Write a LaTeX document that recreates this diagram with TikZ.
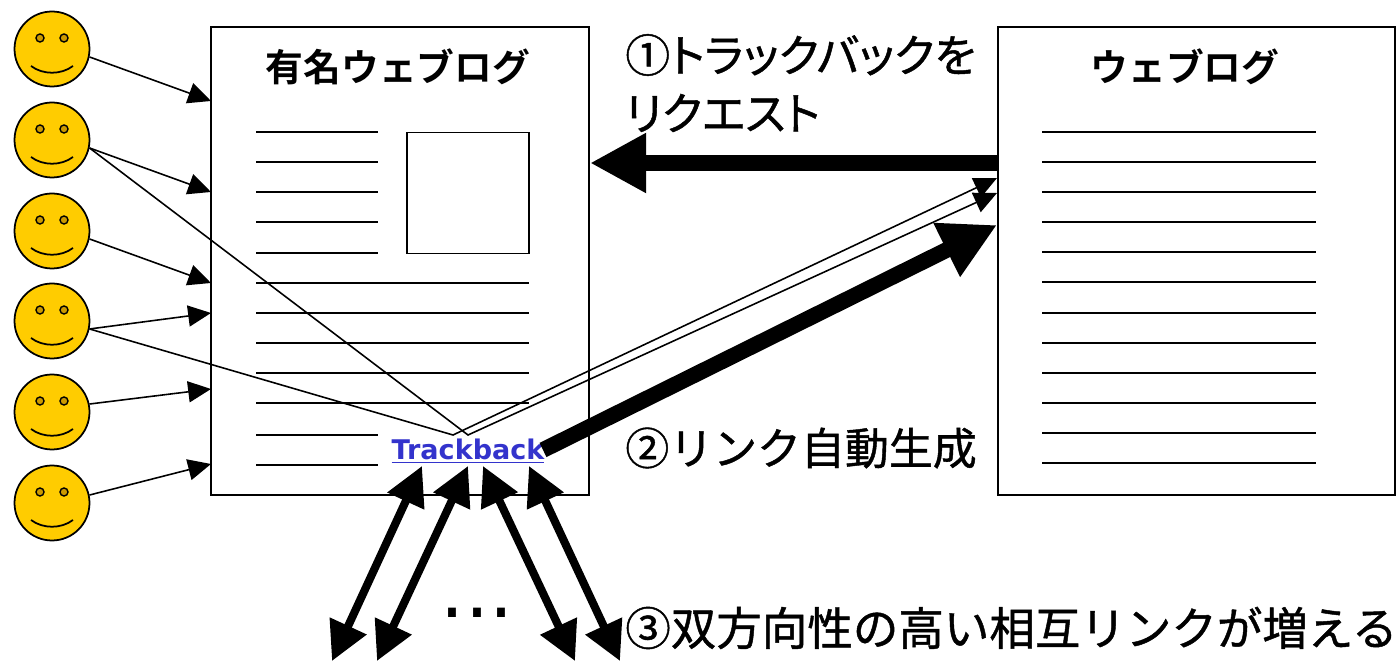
\documentclass[tikz,border=0pt]{standalone}
\usepackage{xcolor}
\usepackage{fontspec}
\setmainfont{Noto Sans CJK JP}[FakeBold=1]
\newfontfamily\titlefont{Noto Sans CJK JP Bold}
\newfontfamily\palefont{Noto Sans CJK JP}[FakeBold=1,RawFeature=+palt]
\newfontfamily\latinbold{DejaVu Sans Bold}
\newfontfamily\dotfont{DejaVu Sans}
\usetikzlibrary{arrows.meta}
\definecolor{facefill}{HTML}{FFCC00}
\definecolor{eyefill}{HTML}{CC9900}
\definecolor{linkblue}{HTML}{3333CC}
\tikzset{
    face/.style={circle, draw, fill=facefill, line width=1pt, minimum size=1.5cm, inner sep=0pt},
    page/.style={rectangle, draw, line width=0.9pt, minimum width=7.56cm, minimum height=9.36cm},
    thinarrow/.style={line width=0.9pt, -{Triangle[length=13pt,width=12pt]}},
    thickarrow/.style={line width=9pt, -{Triangle[length=32pt,width=32pt]}},
    botharrow/.style={line width=4.6pt, {Triangle[length=22pt,width=22pt]}-{Triangle[length=22pt,width=22pt]}},
    label/.style={anchor=west, inner sep=0pt, font=\fontsize{25pt}{25pt}\selectfont}
}

\begin{document}
\begin{tikzpicture}[x=0.02cm,y=-0.02cm]
    \useasboundingbox (0,0) rectangle (1399,661);

    \node[page] (famous) at (400,261) {};
    \node[page, minimum width=7.94cm] (weblog) at (1196.5,261) {};
    \node[font=\titlefont\fontsize{21.5pt}{21.5pt}\selectfont] (famoustitle) at (398,67) {有名ウェブログ};
    \node[font=\titlefont\fontsize{21.5pt}{21.5pt}\selectfont] (weblogtitle) at (1185,67) {ウェブログ};
    \node[draw, line width=0.9pt, minimum width=2.44cm, minimum height=2.42cm] (photo) at (468,193) {};

    % text lines of the two pages
    \foreach \y in {132,162,192,222,253,435,465} {
        \draw[line width=0.85pt] (256,\y) -- (378,\y);
    }
    \foreach \y in {283,313,343,373,403} {
        \draw[line width=0.85pt] (256,\y) -- (529,\y);
    }
    \foreach \y in {132,162,192,222,252,282,313,343,373,403,433,463} {
        \draw[line width=0.85pt] (1042,\y) -- (1316,\y);
    }

    % faces
    \foreach \n/\y in {1/49,2/140,3/231,4/321,5/412,6/503} {
        \node[face] (face\n) at (52,\y) {};
        \filldraw[fill=eyefill, line width=0.8pt] (40,\y-11) circle (4);
        \filldraw[fill=eyefill, line width=0.8pt] (64,\y-11) circle (4);
        \draw[line width=1pt] (31,\y+17) .. controls (43,\y+26) and (61,\y+26) .. (73,\y+17);
    }

    \node[font=\latinbold\fontsize{15.4pt}{15.4pt}\selectfont, text=linkblue, inner sep=0pt] (trackback) at (468,451) {\underline{Trackback}};

    \coordinate (in1) at (211,101);
    \coordinate (in2) at (211,192);
    \coordinate (in3) at (211,283);
    \coordinate (in4) at (211,313);
    \coordinate (in5) at (211,389);
    \coordinate (in6) at (211,464);
    \coordinate (bendA) at (453,435);
    \coordinate (bendB) at (468,435);
    \coordinate (pingA) at (997,178);
    \coordinate (pingB) at (997,193);
    \coordinate (reqstart) at (998,163);
    \coordinate (reqend) at (590,163);
    \coordinate (linkstart) at (543,450);
    \coordinate (linkend) at (997,225);

    \foreach \n/\s in {1/-12,2/-12,3/-12,4/-12,5/12,6/12} {
        \draw[thinarrow] (face\n.\s) -- (in\n);
    }
    \draw[thinarrow] (face4.-12) -- (bendA) -- (pingA);
    \draw[thinarrow] (face2.-12) -- (bendB) -- (pingB);

    \draw[thickarrow] (reqstart) -- (reqend);
    \draw[thickarrow] (linkstart) -- (linkend);

    % arrows below the trackback link
    \foreach \n/\a/\b in {1/422/332,2/468/377,3/483/575,4/529/620} {
        \coordinate (up\n) at (\a,466);
        \coordinate (down\n) at (\b,661);
        \draw[botharrow] (up\n) -- (down\n);
    }

    \node[font=\dotfont\fontsize{43pt}{43pt}\selectfont, inner sep=0pt] (dots) at (477,613) {...};

    \node[label, font=\palefont\fontsize{25.5pt}{25.5pt}\selectfont] (request) at (625,55) {①トラックバックを};
    \node[label, font=\palefont\fontsize{25.5pt}{25.5pt}\selectfont] (requestb) at (625,113) {リクエスト};
    \node[label] (autolink) at (625,448) {②リンク自動生成};
    \node[label, font=\fontsize{25.9pt}{25.9pt}\selectfont] (mutual) at (625,628) {③双方向性の高い相互リンクが増える};
\end{tikzpicture}
\end{document}
